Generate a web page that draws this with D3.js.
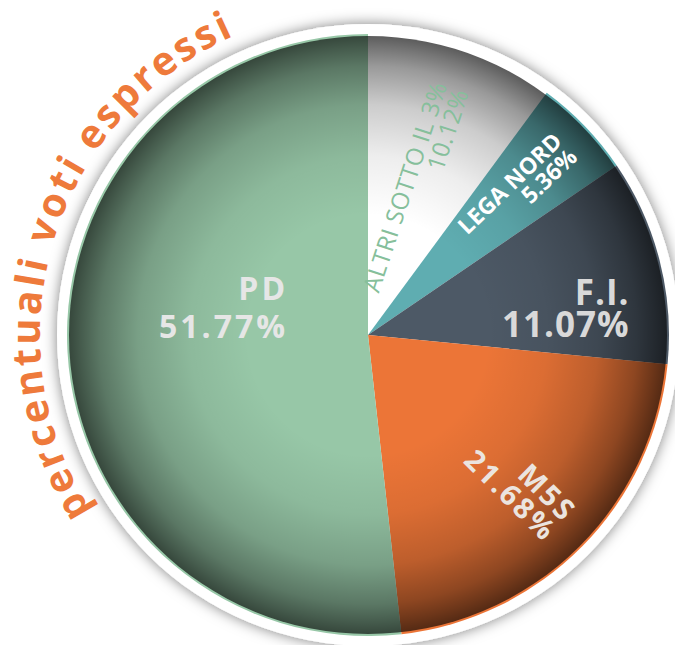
<!DOCTYPE html>
<html>
<head>
<meta charset="utf-8">
<script src="https://cdn.jsdelivr.net/npm/d3@7"></script>
<style>
  html, body { margin: 0; padding: 0; background: #fff; }
  svg { display: block; }
</style>
</head>
<body>
<div id="chart"></div>
<script>
// Chart data
const parties = ['ALTRI SOTTO IL 3%', 'LEGA NORD', 'F.I.', 'M5S', 'PD'];
const shares = [10.12, 5.36, 11.07, 21.68, 51.77];
const shareLabels = ['10.12%', '5.36%', '11.07%', '21.68%', '51.77%'];
const title = 'percentuali voti espressi';

const width = 675, height = 645;
const cx = 368, cy = 335, radius = 301;

const colors = d3.scaleOrdinal()
  .domain(parties)
  .range(['#ffffff', '#5fadb1', '#4d5966', '#ec7537', '#97c7a7']);

// look of each slice label (flat = horizontal text)
const labelStyle = {
  'ALTRI SOTTO IL 3%': { size: 24, weight: 400, fill: '#86bf9b', spacing: 0.5, lh: 0.95, r: 262 },
  'LEGA NORD': { size: 23, weight: 700, fill: '#ffffff', spacing: 0, lh: 0.95, r: 274 },
  'F.I.': { size: 35, weight: 700, fill: '#d9d9d9', spacing: 1, lh: 0.92, r: 270, flat: true, shift: 40 },
  'M5S': { size: 29, weight: 700, fill: '#ebe4df', spacing: 2.5, lh: 0.95, r: 272 },
  'PD': { size: 32, weight: 700, fill: '#e6e6e6', spacing: 3, lh: 1.18, r: 80, flat: true, shift: -32 }
};

const svg = d3.select('#chart')
  .append('svg')
  .attr('width', width)
  .attr('height', height);

const defs = svg.append('defs');

// soft shadow round the white rim
const shadow = defs.append('filter')
  .attr('id', 'rim-shadow')
  .attr('x', '-15%').attr('y', '-15%')
  .attr('width', '130%').attr('height', '130%');
shadow.append('feDropShadow')
  .attr('dx', 0).attr('dy', 0)
  .attr('stdDeviation', 7)
  .attr('flood-color', '#000')
  .attr('flood-opacity', 0.5);

// darkening toward the edge of the pie
const shade = defs.append('radialGradient')
  .attr('id', 'pie-shade')
  .attr('cx', '50%').attr('cy', '50%').attr('r', '50%');
[[0, 0], [0.4, 0], [0.6, 0.07], [0.77, 0.2], [0.9, 0.4], [0.96, 0.54], [1, 0.64]].forEach(s => {
  shade.append('stop')
    .attr('offset', `${s[0] * 100}%`)
    .attr('stop-color', '#000')
    .attr('stop-opacity', s[1]);
});

const g = svg.append('g')
  .attr('transform', `translate(${cx},${cy})`);

// white rim
g.append('circle')
  .attr('r', radius + 10)
  .attr('fill', '#fff')
  .attr('filter', 'url(#rim-shadow)');

const pie = d3.pie()
  .value(d => d.value)
  .sort(null);

const arc = d3.arc()
  .innerRadius(0)
  .outerRadius(radius);

const data = parties.map((p, i) => ({ name: p, value: shares[i], label: shareLabels[i] }));
const arcs = pie(data);

g.selectAll('.slice')
  .data(arcs)
  .enter()
  .append('path')
  .attr('class', 'slice')
  .attr('d', arc)
  .attr('fill', d => colors(d.data.name));

g.append('circle')
  .attr('r', radius - 2)
  .attr('fill', 'url(#pie-shade)');

// Slice labels
arcs.forEach(d => {
  const st = labelStyle[d.data.name];
  const mid = (d.startAngle + d.endAngle) / 2;
  const pos = d3.pointRadial(mid, st.r);
  const rot = st.flat ? 0 : mid * 180 / Math.PI - 90;
  const shift = st.shift || 0;
  const b1 = (0.72 - st.lh) / 2;

  const t = g.append('text')
    .attr('transform', `translate(${pos[0]},${pos[1] + shift}) rotate(${rot})`)
    .attr('text-anchor', 'end')
    .style('font-family', '"Open Sans", sans-serif')
    .style('font-size', st.size + 'px')
    .style('font-weight', st.weight)
    .style('letter-spacing', st.spacing + 'px')
    .attr('fill', st.fill);

  t.append('tspan')
    .attr('x', 0)
    .attr('y', `${b1}em`)
    .text(d.data.name);
  t.append('tspan')
    .attr('x', 0)
    .attr('y', `${b1 + st.lh}em`)
    .text(d.data.label);
});

// Curved title round the upper-left side
const titleR = 328;
const a0 = 237.5 * Math.PI / 180, a1 = 345 * Math.PI / 180;
const p0 = d3.pointRadial(a0, titleR), p1 = d3.pointRadial(a1, titleR);
defs.append('path')
  .attr('id', 'title-path')
  .attr('d', `M${cx + p0[0]},${cy + p0[1]} A${titleR},${titleR} 0 0 1 ${cx + p1[0]},${cy + p1[1]}`);

svg.append('text')
  .style('font-family', '"Open Sans", sans-serif')
  .style('font-size', '40px')
  .style('font-weight', 700)
  .style('letter-spacing', '3px')
  .attr('fill', '#ee7a3b')
  .append('textPath')
  .attr('href', '#title-path')
  .text(title);
</script>
</body>
</html>
